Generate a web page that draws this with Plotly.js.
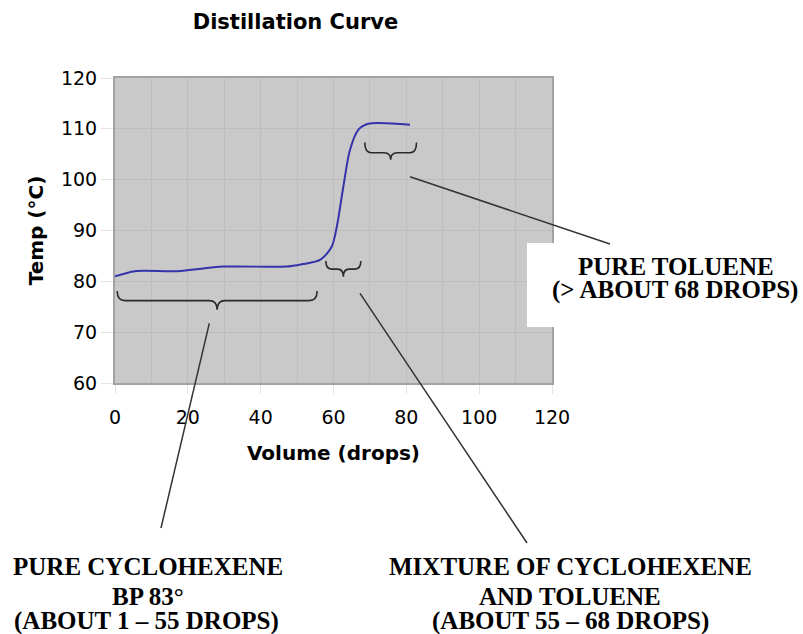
<!DOCTYPE html>
<html><head><meta charset="utf-8">
<script src="https://cdn.plot.ly/plotly-3.0.1.min.js"></script>
<style>html,body{margin:0;padding:0;background:#fff}#chart{width:803px;height:634px}</style>
</head><body><div id="chart"></div>
<script>
// ---- data ----
const volume = [0, 5.5, 17, 29.7, 47, 51.5, 56.3, 59.5, 60.9, 62.7, 64.5, 66.8, 69.6, 81];
const temp   = [81, 82, 82, 82.9, 82.9, 83.4, 84.2, 86.8, 90.7, 98.6, 105.8, 109.8, 111, 110.8];
const xTicks = [0, 20, 40, 60, 80, 100, 120];
const yTicks = [60, 70, 80, 90, 100, 110, 120];
// braces: [xStart, xEnd, yEnds, yBar, yTip] in data units
const braceCyclohexene = [0.6, 55.5, 78.1, 76.2, 74.4];
const braceMixture     = [57.9, 67.5, 84.0, 82.4, 80.9];
const braceToluene     = [68.6, 82.8, 107.3, 105.3, 103.9];
const labelCyclohexene = ["PURE CYCLOHEXENE", "BP 83°", "(ABOUT 1 – 55 DROPS)"];
const labelMixture     = ["MIXTURE OF CYCLOHEXENE", "AND TOLUENE", "(ABOUT 55 – 68 DROPS)"];
const labelToluene     = ["PURE TOLUENE", "(> ABOUT 68 DROPS)"];

// ---- layout helpers (pixel -> paper) ----
const L = 115, T = 78, W = 437, H = 305;
const px = p => (p - L) / W;
const py = p => (T + H - p) / H;

function bracePath(b, r) {
  const [x0, x1, yE, yB, yT] = b, xc = (x0 + x1) / 2;
  return `M${x0},${yE} Q${x0},${yB} ${x0 + r},${yB} L${xc - r},${yB} Q${xc},${yB} ${xc},${yT} ` +
         `Q${xc},${yB} ${xc + r},${yB} L${x1 - r},${yB} Q${x1},${yB} ${x1},${yE}`;
}
const braceStyle = {color: '#2a2a2a', width: 1.6};
function lineShape(x0, y0, x1, y1) {
  return {type: 'line', xref: 'paper', yref: 'paper', x0: px(x0), y0: py(y0), x1: px(x1), y1: py(y1),
          line: {color: '#333333', width: 1.5}, layer: 'above'};
}
const serif = {family: 'Liberation Serif, Times New Roman, serif', size: 25, color: '#000', weight: 'bold'};
function textAnn(t, cx, cy) {
  return {text: t, xref: 'paper', yref: 'paper', x: px(cx), y: py(cy), xanchor: 'center', yanchor: 'middle',
          showarrow: false, font: serif};
}

const shapes = [
  {type: 'path', xref: 'x', yref: 'y', path: bracePath(braceCyclohexene, 2.2), line: braceStyle},
  {type: 'path', xref: 'x', yref: 'y', path: bracePath(braceMixture, 1.6), line: braceStyle},
  {type: 'path', xref: 'x', yref: 'y', path: bracePath(braceToluene, 1.8), line: braceStyle},
  {type: 'rect', xref: 'paper', yref: 'paper', x0: px(527), x1: px(803), y0: py(327), y1: py(243),
   fillcolor: '#ffffff', line: {width: 0}, layer: 'above'},
  lineShape(209.3, 323.3, 161, 528),
  lineShape(360, 293.3, 527, 543),
  lineShape(410, 176.7, 610, 244)
];

const annotations = [
  textAnn(labelToluene[0], 676, 266),
  textAnn(labelToluene[1], 675, 290),
  textAnn(labelCyclohexene[0], 148, 566),
  textAnn(labelCyclohexene[1], 148, 596),
  textAnn(labelCyclohexene[2], 146, 621),
  textAnn(labelMixture[0], 570, 566),
  textAnn(labelMixture[1], 570, 596),
  textAnn(labelMixture[2], 570, 621)
];

const sans = 'DejaVu Sans, Verdana, sans-serif';
const trace = {
  x: volume, y: temp, type: 'scatter', mode: 'lines',
  line: {color: '#3333aa', width: 2, shape: 'spline', smoothing: 0.8},
  hoverinfo: 'skip'
};
const layout = {
  width: 803, height: 634,
  margin: {l: L, r: 803 - L - W, t: T, b: 634 - T - H},
  paper_bgcolor: '#ffffff', plot_bgcolor: '#c9c9c9',
  showlegend: false,
  title: {text: 'Distillation Curve', x: px(295.5), xref: 'paper', xanchor: 'center',
          y: 1 - 22 / 634, yref: 'container', yanchor: 'middle',
          font: {family: sans, size: 21, color: '#000', weight: 'bold'}},
  xaxis: {
    range: [0, 120], tickvals: xTicks, ticktext: xTicks.map(String),
    showgrid: true, gridcolor: '#bdbdbd', gridwidth: 1,
    minor: {dtick: 10, showgrid: true, gridcolor: '#bdbdbd', gridwidth: 1},
    zeroline: false, showline: true, mirror: true, linecolor: '#a3a3a3', linewidth: 2,
    ticks: 'outside', ticklen: 9, tickcolor: '#e4e4e4', ticklabelstandoff: 7,
    tickfont: {family: sans, size: 19, color: '#000'},
    title: {text: 'Volume (drops)', standoff: 19, font: {family: sans, size: 20, color: '#000', weight: 'bold'}},
    automargin: false, fixedrange: true
  },
  yaxis: {
    range: [60, 120], tickvals: yTicks, ticktext: yTicks.map(String),
    showgrid: true, gridcolor: '#bdbdbd', gridwidth: 1,
    zeroline: false, showline: true, mirror: true, linecolor: '#a3a3a3', linewidth: 2,
    ticks: 'outside', ticklen: 12, tickcolor: '#e4e4e4',
    tickfont: {family: sans, size: 19, color: '#000'},
    title: {text: 'Temp (°C)', standoff: 12, font: {family: sans, size: 20, color: '#000', weight: 'bold'}},
    automargin: false, fixedrange: true
  },
  shapes: shapes,
  annotations: annotations
};
Plotly.newPlot('chart', [trace], layout, {displayModeBar: false, staticPlot: true});
</script></body></html>
